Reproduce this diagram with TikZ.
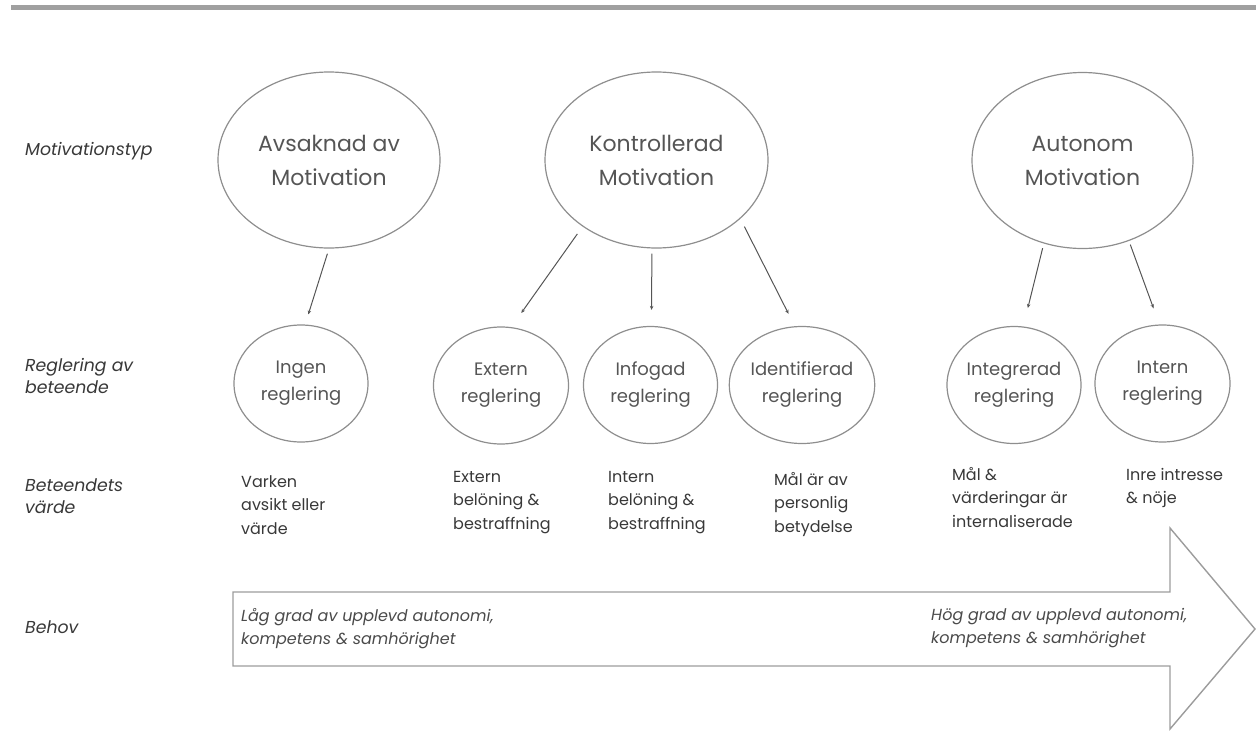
\documentclass[tikz,border=0pt]{standalone}
\usepackage{fontspec}
\setmainfont{Poppins}
\usetikzlibrary{shapes.geometric,arrows.meta}
\definecolor{edge}{HTML}{8E8E8E}
\definecolor{lineg}{HTML}{555555}
\definecolor{txtg}{HTML}{555555}
\definecolor{txtd}{HTML}{383838}
\definecolor{txtm}{HTML}{4A4A4A}
\definecolor{barg}{HTML}{A0A0A0}
\definecolor{arrg}{HTML}{9C9C9C}
\tikzset{
  bigell/.style={ellipse, draw=edge, line width=1.2pt, minimum width=222pt, minimum height=176pt,
    inner sep=0pt, align=center, text=txtg, font=\fontsize{22}{34}\selectfont},
  smallell/.style={ellipse, draw=edge, line width=1.2pt, minimum width=134pt, minimum height=117pt,
    inner sep=0pt, align=center, text=txtg, font=\fontsize{18}{27}\selectfont},
  conn/.style={draw=lineg, line width=1pt, -{Stealth[length=4pt,width=3.5pt]}},
  valtext/.style={anchor=north west, inner sep=0pt, align=left, text=txtd, font=\fontsize{16}{23.5}\selectfont},
  rowlab/.style={anchor=west, inner sep=0pt, align=left, text=txtd, font=\itshape\fontsize{17.3}{22}\selectfont},
  arrtext/.style={anchor=north west, inner sep=0pt, align=left, text=txtm, font=\itshape\fontsize{16}{23}\selectfont},
}
\begin{document}
\begin{tikzpicture}[x=1pt,y=-1pt]
\useasboundingbox (0,0) rectangle (1256,755);
% top bar
\fill[barg] (11,5) rectangle (1256,10);

% row labels
\node[rowlab] (l1) at (25,151) {Motivationstyp};
\node[rowlab] (l2) at (25,376) {Reglering av\\beteende};
\node[rowlab] (l3) at (25,496) {Beteendets\\värde};
\node[rowlab] (l4) at (25,627) {Behov};

% motivation types
\node[bigell] (av) at (329,160) {Avsaknad av\\Motivation};
\node[bigell, minimum width=223pt] (ko) at (656.5,160) {Kontrollerad\\Motivation};
\node[bigell, minimum width=221pt] (au) at (1082.5,160.5) {Autonom\\Motivation};

% regulation
\node[smallell] (ing) at (301,383.5) {Ingen\\reglering};
\node[smallell, minimum width=135pt] (ext) at (501,385.5) {Extern\\reglering};
\node[smallell] (inf) at (650.5,385) {Infogad\\reglering};
\node[smallell] (ide) at (802,385) {Identifierad\\reglering};
\node[smallell] (itg) at (1014,385) {Integrerad\\reglering};
\node[smallell, minimum width=135pt] (itn) at (1162.5,383.5) {Intern\\reglering};

% connectors
\draw[conn, shorten <=5.3pt, shorten >=10.6pt] (av.-90.3) -- (ing.86);
\draw[conn, shorten <=9pt, shorten >=17.3pt] (ko.-138.6) -- (ext.80.1);
\draw[conn, shorten <=5pt, shorten >=16pt] (ko.-93.6) -- (inf.89.5);
\draw[conn, shorten <=8.8pt, shorten >=13.9pt] (ko.-35.7) -- (ide.97.6);
\draw[conn, shorten <=4.8pt, shorten >=19pt] (au.-115.6) -- (itg.81.6);
\draw[conn, shorten <=3.9pt, shorten >=17.2pt] (au.-60.6) -- (itn.93.5);

% behaviour value texts
\node[valtext] (v1) at (241,475) {Varken\\avsikt eller\\värde};
\node[valtext] (v2) at (453,471) {Extern\\belöning \&\\bestraffning};
\node[valtext] (v3) at (608,471) {Intern\\belöning \&\\bestraffning};
\node[valtext] (v4) at (774,472) {Mål är av\\personlig\\betydelse};
\node[valtext] (v5) at (952,467) {Mål \&\\värderingar är\\internaliserade};
\node[valtext] (v6) at (1126,468) {Inre intresse\\\& nöje};

% big arrow
\draw[draw=arrg, line width=1.4pt, line join=miter]
  (233,592) -- (1170,592) -- (1170,528) -- (1255,629) -- (1170,729) -- (1170,666) -- (233,666) -- cycle;
\node[arrtext] (lo) at (241,608) {Låg grad av upplevd autonomi,\\kompetens \& samhörighet};
\node[arrtext] (hi) at (931,608) {Hög grad av upplevd autonomi,\\kompetens \& samhörighet};
\end{tikzpicture}
\end{document}
